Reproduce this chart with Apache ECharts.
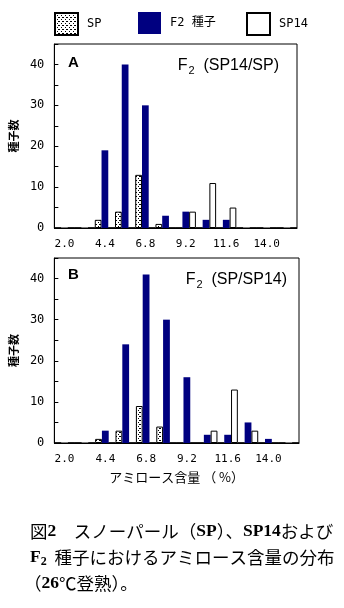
<!DOCTYPE html>
<html>
<head>
<meta charset="utf-8">
<script src="https://cdn.jsdelivr.net/npm/echarts@6/dist/echarts.min.js"></script>
<style>
html, body { margin: 0; padding: 0; background: #fff; }
#chart { width: 344px; height: 608px; }
</style>
</head>
<body>
<div id="chart"></div>
<script>
// Amylose content classes (%), one bar group per class
const categories = ['2.0', '3.2', '4.4', '5.6', '6.8', '8.0', '9.2', '10.4', '11.6', '12.8', '14.0', '15.2'];
const seriesNames = ['SP', 'F2 種子', 'SP14'];

// Panel A: F2 (SP14/SP)
const spA   = [0, 0, 2, 4, 13, 1, 0, 0, 0, 0, 0, 0];
const f2A   = [0, 0, 19, 40, 30, 3, 4, 2, 2, 0, 0, 0];
const sp14A = [0, 0, 0, 0, 0, 0, 4, 11, 5, 0, 0, 0];

// Panel B: F2 (SP/SP14)
const spB   = [0, 0, 1, 3, 9, 4, 0, 0, 0, 0, 0, 0];
const f2B   = [0, 0, 3, 24, 41, 30, 16, 2, 2, 5, 1, 0];
const sp14B = [0, 0, 0, 0, 0, 0, 0, 3, 13, 3, 0, 0];

const yLabels = [0, 10, 20, 30, 40];

// Dotted fill used for the SP bars
function dotPattern() {
  const c = document.createElement('canvas');
  c.width = 4; c.height = 4;
  const ctx = c.getContext('2d');
  ctx.fillStyle = '#fff';
  ctx.fillRect(0, 0, 4, 4);
  ctx.fillStyle = '#000';
  [[0, 0], [2, 2], [3, 0]].forEach(function (p) { ctx.fillRect(p[0], p[1], 1, 1); });
  return c;
}

const barStyles = [
  { color: { image: dotPattern(), repeat: 'repeat' }, borderColor: '#000', borderWidth: 1 },
  { color: '#000080', borderColor: '#000080', borderWidth: 0 },
  { color: '#fff', borderColor: '#000', borderWidth: 1 }
];

const monoFont = 'DejaVu Sans Mono';
const cjkFont = 'Noto Sans CJK JP';
const sansFont = 'Liberation Sans';

const grids = [
  { left: 52, top: 44, width: 245, height: 184 },
  { left: 54, top: 258, width: 245, height: 185 }
].map(function (g) {
  return Object.assign({ show: true, borderColor: '#000', borderWidth: 1, backgroundColor: 'transparent' }, g);
});

function xAxisFor(i, withName) {
  const ax = {
    gridIndex: i,
    type: 'category',
    data: categories,
    boundaryGap: true,
    axisLine: { lineStyle: { color: '#000', width: 1 } },
    axisTick: { inside: true, length: 4, interval: 1, lineStyle: { color: '#000' } },
    axisLabel: { interval: 1, margin: 11, color: '#000', fontFamily: monoFont, fontSize: 11 }
  };
  if (withName) {
    ax.name = 'アミロース含量 （ %）';
    ax.nameLocation = 'middle';
    ax.nameGap = 28;
    ax.nameTextStyle = { fontFamily: cjkFont, fontSize: 13, color: '#000' };
  }
  return ax;
}

function yAxisFor(i) {
  return {
    gridIndex: i,
    type: 'value',
    min: 0,
    max: 45,
    interval: 5,
    name: '種子数',
    nameLocation: 'middle',
    nameGap: 31,
    nameTextStyle: { fontFamily: cjkFont, fontSize: 11, fontWeight: 'bold', color: '#000' },
    axisLine: { show: true, lineStyle: { color: '#000', width: 1 } },
    axisTick: { show: true, inside: true, length: 4, lineStyle: { color: '#000' } },
    axisLabel: {
      margin: 10, color: '#000', fontFamily: monoFont, fontSize: 12,
      formatter: function (v) { return yLabels.indexOf(v) >= 0 ? String(v) : ''; }
    },
    splitLine: { show: false }
  };
}

function barSeries(gridIdx, values) {
  return values.map(function (data, k) {
    return {
      name: seriesNames[k],
      type: 'bar',
      xAxisIndex: gridIdx,
      yAxisIndex: gridIdx,
      data: data,
      barGap: '0%',
      barCategoryGap: '0%',
      itemStyle: barStyles[k],
      emphasis: { disabled: true },
      animation: false
    };
  });
}

const legendBase = {
  icon: 'rect', itemWidth: 23, itemHeight: 22, padding: 0, top: 12,
  selectedMode: false,
  textStyle: { fontFamily: monoFont + ', ' + cjkFont, fontSize: 12, color: '#000', padding: [0, 0, 0, 4] }
};

// Rich styles: panel titles with subscript 2
const titleRich = {
  a: { fontFamily: sansFont, fontSize: 16, color: '#000' },
  s: { fontFamily: sansFont, fontSize: 11, color: '#000', padding: [9, 0, 0, 1] }
};

// Rich styles: caption (Japanese text plus bold Latin)
const captionRich = {
  j: { fontFamily: cjkFont, fontSize: 17.5, color: '#000' },
  b: { fontFamily: 'Liberation Serif', fontWeight: 'bold', fontSize: 17.5, color: '#000' },
  bs: { fontFamily: 'Liberation Serif', fontWeight: 'bold', fontSize: 12, color: '#000', padding: [9, 0, 0, 0] }
};

function panelText(x, y, text, opts) {
  return {
    type: 'text', x: x, y: y, silent: true,
    style: Object.assign({ text: text, fill: '#000', verticalAlign: 'middle', align: 'left' }, opts)
  };
}

const chart = echarts.init(document.getElementById('chart'), null, { renderer: 'canvas' });
chart.setOption({
  animation: false,
  backgroundColor: '#fff',
  legend: [
    Object.assign({ data: [seriesNames[0]], left: 54 }, legendBase),
    Object.assign({ data: [seriesNames[1]], left: 138 }, legendBase),
    Object.assign({ data: [seriesNames[2]], left: 246 }, legendBase)
  ],
  grid: grids,
  xAxis: [xAxisFor(0, false), xAxisFor(1, true)],
  yAxis: [yAxisFor(0), yAxisFor(1)],
  series: barSeries(0, [spA, f2A, sp14A]).concat(barSeries(1, [spB, f2B, sp14B])),
  graphic: [
    panelText(68, 63, 'A', { font: 'bold 15px "Liberation Sans", Arial, sans-serif' }),
    panelText(279, 66, '{a|F}{s|2}{a|  (SP14/SP)}', { rich: titleRich, align: 'right' }),
    panelText(68, 275, 'B', { font: 'bold 15px "Liberation Sans", Arial, sans-serif' }),
    panelText(287, 280, '{a|F}{s|2}{a|  (SP/SP14)}', { rich: titleRich, align: 'right' }),
    panelText(30, 531, '{j|図}{b|2}{j|　スノーパール（}{b|SP}{j|）、}{b|SP14}{j|および}', { rich: captionRich }),
    panelText(30, 557, '{b|F}{bs|2}{j|  種子におけるアミロース含量の分布}', { rich: captionRich }),
    panelText(24, 583, '{j|（}{b|26}{j|℃登熟）。}', { rich: captionRich })
  ]
});
</script>
</body>
</html>
